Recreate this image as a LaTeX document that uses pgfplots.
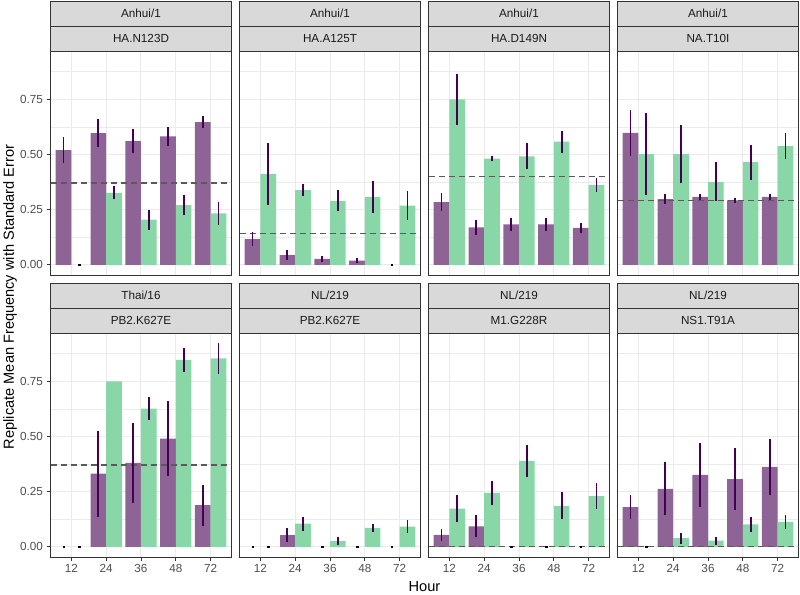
\documentclass[border=0pt]{standalone}
\usepackage{pgfplots}
\pgfplotsset{compat=1.18}
\usepackage{fontspec}
\setmainfont{Liberation Sans}
\definecolor{purp}{HTML}{8E6496}
\definecolor{gree}{HTML}{89D7A7}
\definecolor{errc}{HTML}{440154}
\definecolor{c20}{HTML}{333333}
\definecolor{c30}{HTML}{4D4D4D}
\definecolor{c10}{HTML}{1A1A1A}
\definecolor{gridc}{HTML}{EBEBEB}
\definecolor{stripf}{HTML}{D9D9D9}
\definecolor{dashc}{HTML}{5A5A5A}
\pgfplotsset{
 facet/.style={scale only axis, width=181pt, height=224pt, anchor=south west,
  xmin=0.4, xmax=5.6, ymin=-0.046, ymax=0.969,
  xtick={1,2,3,4,5}, ytick={0,0.25,0.5,0.75}, minor ytick={0.125,0.375,0.625,0.875},
  xticklabels={}, yticklabels={},
  grid=both, major grid style={draw=gridc, line width=1pt}, minor grid style={draw=gridc, line width=0.55pt},
  axis line style={draw=c20, line width=0.9pt},
  tick align=outside, major tick length=4pt, minor tick length=0pt,
  tick style={draw=c20, line width=0.9pt},
  every x tick/.append style={draw=none}, every y tick/.append style={draw=none},
  xtick pos=bottom, ytick pos=left,
  ticklabel style={font=\fontsize{11.7}{14}\selectfont, text=c30},
 },
 showx/.style={xticklabels={12,24,36,48,72}, every x tick/.append style={draw=c20}},
 showy/.style={yticklabels={0.00,0.25,0.50,0.75}, every y tick/.append style={draw=c20}},
 pbar/.style={ybar, bar width=0.45, bar shift=0pt, fill=purp, draw=none},
 gbar/.style={ybar, bar width=0.45, bar shift=0pt, fill=gree, draw=none},
 errs/.style={draw=none, mark=none, error bars/.cd, y dir=both, y explicit, error mark=none, error bar style={draw=errc, line width=1.8pt}},
 dots/.style={only marks, mark=square*, mark size=0.75pt, mark options={draw=none, fill=errc}},
 dline/.style={dashc, dash pattern=on 6pt off 4pt, line width=1.1pt},
}
\newcommand{\strips}[4]{%
 \draw[fill=stripf, draw=c20, line width=0.9pt] (#1,#2) rectangle ++(181,-25);
 \draw[fill=stripf, draw=c20, line width=0.9pt] (#1,#2-25) rectangle ++(181,-25);
 \node[font=\fontsize{11.7}{14}\selectfont, text=c10, text height=8.4pt, text depth=0pt, inner sep=0pt] at (#1+90.5,#2-12.5) {#3};
 \node[font=\fontsize{11.7}{14}\selectfont, text=c10, text height=8.4pt, text depth=0pt, inner sep=0pt] at (#1+90.5,#2-37.5) {#4};
}
\begin{document}
\begin{tikzpicture}[x=1pt,y=1pt]
% ---------- Row 1 ----------
\begin{axis}[facet, showy, at={(50.5pt,319pt)}]
\addplot[pbar] coordinates {(0.775,0.520) (1.775,0.597) (2.775,0.561) (3.775,0.582) (4.775,0.647)};
\addplot[gbar] coordinates {(2.225,0.326) (3.225,0.2045) (4.225,0.271) (5.225,0.233)};
\addplot[dline] coordinates {(0.4,0.371) (5.6,0.371)};
\addplot[errs] coordinates {(0.775,0.520) +- (0,0.058) (1.775,0.597) +- (0,0.064) (2.775,0.561) +- (0,0.054) (3.775,0.582) +- (0,0.042) (4.775,0.647) +- (0,0.026)
 (2.225,0.326) +- (0,0.029) (3.225,0.2045) +- (0,0.0455) (4.225,0.271) +- (0,0.0435) (5.225,0.233) +- (0,0.054)};
\addplot[dots] coordinates {(1.225,0)};
\end{axis}
\begin{axis}[facet, at={(239.5pt,319pt)}]
\addplot[pbar] coordinates {(0.775,0.117) (1.775,0.0436) (2.775,0.027) (3.775,0.0195)};
\addplot[gbar] coordinates {(1.225,0.412) (2.225,0.338) (3.225,0.290) (4.225,0.308) (5.225,0.268)};
\addplot[dline] coordinates {(0.4,0.140) (5.6,0.140)};
\addplot[errs] coordinates {(0.775,0.117) +- (0,0.033) (1.775,0.0436) +- (0,0.023) (2.775,0.027) +- (0,0.0145) (3.775,0.0195) +- (0,0.013)
 (1.225,0.412) +- (0,0.139) (2.225,0.338) +- (0,0.0275) (3.225,0.290) +- (0,0.048) (4.225,0.308) +- (0,0.0725) (5.225,0.268) +- (0,0.065)};
\addplot[dots] coordinates {(4.775,0)};
\end{axis}
\begin{axis}[facet, at={(428.5pt,319pt)}]
\addplot[pbar] coordinates {(0.775,0.284) (1.775,0.170) (2.775,0.183) (3.775,0.183) (4.775,0.167)};
\addplot[gbar] coordinates {(1.225,0.750) (2.225,0.481) (3.225,0.492) (4.225,0.558) (5.225,0.362)};
\addplot[dline] coordinates {(0.4,0.401) (5.6,0.401)};
\addplot[errs] coordinates {(0.775,0.284) +- (0,0.040) (1.775,0.170) +- (0,0.034) (2.775,0.183) +- (0,0.0315) (3.775,0.183) +- (0,0.028) (4.775,0.167) +- (0,0.024)
 (1.225,0.750) +- (0,0.116) (2.225,0.481) +- (0,0.0105) (3.225,0.492) +- (0,0.059) (4.225,0.558) +- (0,0.049) (5.225,0.362) +- (0,0.0315)};
\end{axis}
\begin{axis}[facet, at={(617.5pt,319pt)}]
\addplot[pbar] coordinates {(0.775,0.598) (1.775,0.298) (2.775,0.308) (3.775,0.292) (4.775,0.308)};
\addplot[gbar] coordinates {(1.225,0.502) (2.225,0.502) (3.225,0.376) (4.225,0.465) (5.225,0.538)};
\addplot[dline] coordinates {(0.4,0.290) (5.6,0.290)};
\addplot[errs] coordinates {(0.775,0.598) +- (0,0.103) (1.775,0.298) +- (0,0.0225) (2.775,0.308) +- (0,0.0145) (3.775,0.292) +- (0,0.0105) (4.775,0.308) +- (0,0.012)
 (1.225,0.502) +- (0,0.185) (2.225,0.502) +- (0,0.132) (3.225,0.376) +- (0,0.0885) (4.225,0.465) +- (0,0.0795) (5.225,0.538) +- (0,0.0595)};
\end{axis}
% ---------- Row 2 ----------
\begin{axis}[facet, showy, showx, at={(50.5pt,37pt)}]
\addplot[pbar] coordinates {(1.775,0.332) (2.775,0.380) (3.775,0.490) (4.775,0.189)};
\addplot[gbar] coordinates {(2.225,0.750) (3.225,0.626) (4.225,0.847) (5.225,0.854)};
\addplot[dline] coordinates {(0.4,0.371) (5.6,0.371)};
\addplot[errs] coordinates {(1.775,0.332) +- (0,0.195) (2.775,0.380) +- (0,0.183) (3.775,0.490) +- (0,0.1705) (4.775,0.189) +- (0,0.0925)
 (3.225,0.626) +- (0,0.052) (4.225,0.847) +- (0,0.055) (5.225,0.854) +- (0,0.070)};
\addplot[dots] coordinates {(0.775,0) (1.225,0)};
\end{axis}
\begin{axis}[facet, showx, at={(239.5pt,37pt)}]
\addplot[pbar] coordinates {(1.775,0.0556)};
\addplot[gbar] coordinates {(2.225,0.105) (3.225,0.0256) (4.225,0.0857) (5.225,0.0917)};
\addplot[errs] coordinates {(1.775,0.0556) +- (0,0.032)
 (2.225,0.105) +- (0,0.031) (3.225,0.0256) +- (0,0.017) (4.225,0.0857) +- (0,0.0175) (5.225,0.0917) +- (0,0.0295)};
\addplot[dots] coordinates {(0.775,0) (1.225,0) (2.775,0) (3.775,0) (4.775,0)};
\end{axis}
\begin{axis}[facet, showx, at={(428.5pt,37pt)}]
\addplot[pbar] coordinates {(0.775,0.054) (1.775,0.093)};
\addplot[gbar] coordinates {(1.225,0.173) (2.225,0.245) (3.225,0.389) (4.225,0.186) (5.225,0.230)};
\addplot[dline] coordinates {(0.4,0.001) (5.6,0.001)};
\addplot[errs] coordinates {(0.775,0.054) +- (0,0.026) (1.775,0.093) +- (0,0.0495)
 (1.225,0.173) +- (0,0.060) (2.225,0.245) +- (0,0.054) (3.225,0.389) +- (0,0.0745) (4.225,0.186) +- (0,0.0615) (5.225,0.230) +- (0,0.0595)};
\addplot[dots] coordinates {(2.775,0) (3.775,0) (4.775,0)};
\end{axis}
\begin{axis}[facet, showx, at={(617.5pt,37pt)}]
\addplot[pbar] coordinates {(0.775,0.180) (1.775,0.263) (2.775,0.326) (3.775,0.307) (4.775,0.362)};
\addplot[gbar] coordinates {(2.225,0.039) (3.225,0.0286) (4.225,0.102) (5.225,0.113)};
\addplot[dline] coordinates {(0.4,0) (5.6,0)};
\addplot[errs] coordinates {(0.775,0.180) +- (0,0.0555) (1.775,0.263) +- (0,0.120) (2.775,0.326) +- (0,0.146) (3.775,0.307) +- (0,0.1415) (4.775,0.362) +- (0,0.1255)
 (2.225,0.039) +- (0,0.024) (3.225,0.0286) +- (0,0.018) (4.225,0.102) +- (0,0.035) (5.225,0.113) +- (0,0.033)};
\addplot[dots] coordinates {(1.225,0)};
\end{axis}
% ---------- Strips ----------
\strips{50.5}{593}{Anhui/1}{HA.N123D}
\strips{239.5}{593}{Anhui/1}{HA.A125T}
\strips{428.5}{593}{Anhui/1}{HA.D149N}
\strips{617.5}{593}{Anhui/1}{NA.T10I}
\strips{50.5}{311}{Thai/16}{PB2.K627E}
\strips{239.5}{311}{NL/219}{PB2.K627E}
\strips{428.5}{311}{NL/219}{M1.G228R}
\strips{617.5}{311}{NL/219}{NS1.T91A}
% ---------- Titles ----------
\node[font=\fontsize{14.6}{17}\selectfont, text=black, text height=10.5pt, text depth=0pt, inner sep=0pt] at (424.5,7.3) {Hour};
\node[font=\fontsize{14.6}{17}\selectfont, text=black, text height=10.5pt, text depth=0pt, inner sep=0pt, rotate=90] at (8.6,297) {Replicate Mean Frequency with Standard Error};
\pgfresetboundingbox
\path (0,0) rectangle (800,594);
\end{tikzpicture}
\end{document}
